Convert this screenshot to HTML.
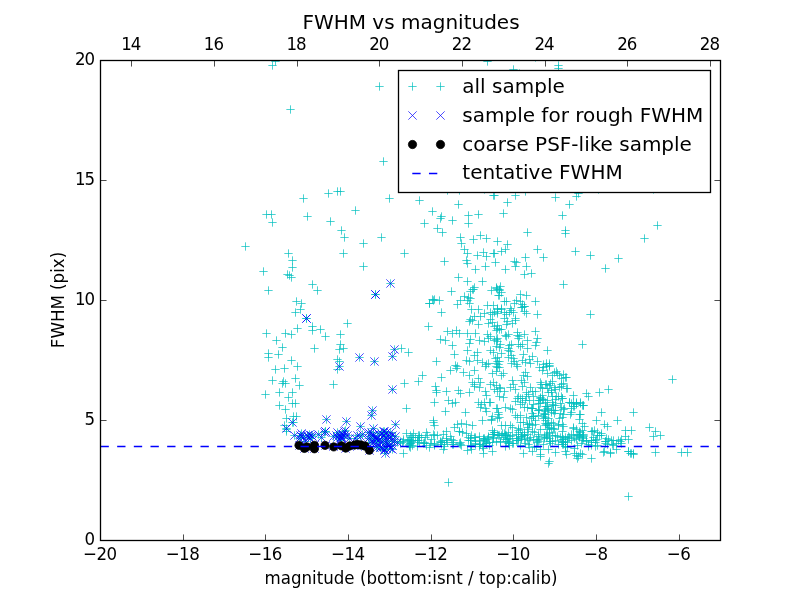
<!DOCTYPE html>
<html><head><meta charset="utf-8"><title>FWHM vs magnitudes</title><style>html,body{margin:0;padding:0;background:#fff;width:800px;height:600px;overflow:hidden}svg{display:block}</style></head><body>
<svg width="800" height="600" viewBox="0 0 800 600">
<rect x="0" y="0" width="800" height="600" fill="#ffffff"/>
<defs><clipPath id="cp"><rect x="100" y="60" width="620" height="480"/></clipPath></defs>
<g clip-path="url(#cp)">
<path d="M268.33 65.5H276.67M272.5 61.33V69.67M271.33 61.5H279.67M275.5 57.33V65.67M286.33 109.5H294.67M290.5 105.33V113.67M241.33 246.5H249.67M245.5 242.33V250.67M262.33 214.5H270.67M266.5 210.33V218.67M267.33 214.5H275.67M271.5 210.33V218.67M268.33 222.5H276.67M272.5 218.33V226.67M299.33 198.5H307.67M303.5 194.33V202.67M303.33 216.5H311.67M307.5 212.33V220.67M324.33 193.5H332.67M328.5 189.33V197.67M333.33 191.5H341.67M337.5 187.33V195.67M336.33 191.5H344.67M340.5 187.33V195.67M326.33 221.5H334.67M330.5 217.33V225.67M284.33 253.5H292.67M288.5 249.33V257.67M288.33 260.5H296.67M292.5 256.33V264.67M288.33 267.5H296.67M292.5 263.33V271.67M259.33 271.5H267.67M263.5 267.33V275.67M283.33 274.5H291.67M287.5 270.33V278.67M285.33 275.5H293.67M289.5 271.33V279.67M287.33 277.5H295.67M291.5 273.33V281.67M308.33 284.5H316.67M312.5 280.33V288.67M313.33 290.5H321.67M317.5 286.33V294.67M264.33 290.5H272.67M268.5 286.33V294.67M292.33 301.5H300.67M296.5 297.33V305.67M297.33 303.5H305.67M301.5 299.33V307.67M296.33 309.5H304.67M300.5 305.33V313.67M291.33 312.5H299.67M295.5 308.33V316.67M302.33 318.5H310.67M306.5 314.33V322.67M293.33 328.5H301.67M297.5 324.33V332.67M308.33 326.5H316.67M312.5 322.33V330.67M308.33 330.5H316.67M312.5 326.33V334.67M316.33 329.5H324.67M320.5 325.33V333.67M321.33 336.5H329.67M325.5 332.33V340.67M262.33 333.5H270.67M266.5 329.33V337.67M281.33 333.5H289.67M285.5 329.33V337.67M287.33 334.5H295.67M291.5 330.33V338.67M272.33 340.5H280.67M276.5 336.33V344.67M278.33 347.5H286.67M282.5 343.33V351.67M310.33 348.5H318.67M314.5 344.33V352.67M264.33 353.5H272.67M268.5 349.33V357.67M264.33 357.5H272.67M268.5 353.33V361.67M274.33 354.5H282.67M278.5 350.33V358.67M287.33 360.5H295.67M291.5 356.33V364.67M293.33 366.5H301.67M297.5 362.33V370.67M271.33 369.5H279.67M275.5 365.33V373.67M280.33 368.5H288.67M284.5 364.33V372.67M268.33 380.5H276.67M272.5 376.33V384.67M278.33 383.5H286.67M282.5 379.33V387.67M281.33 383.5H289.67M285.5 379.33V387.67M279.33 381.5H287.67M283.5 377.33V385.67M291.33 378.5H299.67M295.5 374.33V382.67M295.33 385.5H303.67M299.5 381.33V389.67M329.33 384.5H337.67M333.5 380.33V388.67M336.33 334.5H344.67M340.5 330.33V338.67M336.33 344.5H344.67M340.5 340.33V348.67M335.33 349.5H343.67M339.5 345.33V353.67M339.33 348.5H347.67M343.5 344.33V352.67M333.33 359.5H341.67M337.5 355.33V363.67M335.33 361.5H343.67M339.5 357.33V365.67M333.33 369.5H341.67M337.5 365.33V373.67M335.33 366.5H343.67M339.5 362.33V370.67M355.33 357.5H363.67M359.5 353.33V361.67M261.33 394.5H269.67M265.5 390.33V398.67M275.33 392.5H283.67M279.5 388.33V396.67M288.33 392.5H296.67M292.5 388.33V396.67M284.33 397.5H292.67M288.5 393.33V401.67M275.33 405.5H283.67M279.5 401.33V409.67M288.33 403.5H296.67M292.5 399.33V407.67M291.33 403.5H299.67M295.5 399.33V407.67M281.33 409.5H289.67M285.5 405.33V413.67M282.33 418.5H290.67M286.5 414.33V422.67M289.33 416.5H297.67M293.5 412.33V420.67M292.33 416.5H300.67M296.5 412.33V420.67M289.33 422.5H297.67M293.5 418.33V426.67M280.33 425.5H288.67M284.5 421.33V429.67M282.33 429.5H290.67M286.5 425.33V433.67M282.33 431.5H290.67M286.5 427.33V435.67M288.33 422.5H296.67M292.5 418.33V426.67M282.33 428.5H290.67M286.5 424.33V432.67M322.33 419.5H330.67M326.5 415.33V423.67M375.33 86.5H383.67M379.5 82.33V90.67M379.33 161.5H387.67M383.5 157.33V165.67M385.33 198.5H393.67M389.5 194.33V202.67M415.33 200.5H423.67M419.5 196.33V204.67M428.33 211.5H436.67M432.5 207.33V215.67M420.33 223.5H428.67M424.5 219.33V227.67M351.33 210.5H359.67M355.5 206.33V214.67M337.33 230.5H345.67M341.5 226.33V234.67M340.33 237.5H348.67M344.5 233.33V241.67M359.33 243.5H367.67M363.5 239.33V247.67M377.33 237.5H385.67M381.5 233.33V241.67M339.33 253.5H347.67M343.5 249.33V257.67M400.33 253.5H408.67M404.5 249.33V257.67M359.33 266.5H367.67M363.5 262.33V270.67M343.33 323.5H351.67M347.5 319.33V327.67M425.33 303.5H433.67M429.5 299.33V307.67M429.33 300.5H437.67M433.5 296.33V304.67M424.33 326.5H432.67M428.5 322.33V330.67M386.33 283.5H394.67M390.5 279.33V287.67M371.33 294.5H379.67M375.5 290.33V298.67M371.33 294.5H379.67M375.5 290.33V298.67M390.33 349.5H398.67M394.5 345.33V353.67M388.33 356.5H396.67M392.5 352.33V360.67M370.33 361.5H378.67M374.5 357.33V365.67M388.33 389.5H396.67M392.5 385.33V393.67M397.33 348.5H405.67M401.5 344.33V352.67M404.33 352.5H412.67M408.5 348.33V356.67M418.33 375.5H426.67M422.5 371.33V379.67M414.33 381.5H422.67M418.5 377.33V385.67M400.33 383.5H408.67M404.5 379.33V387.67M342.33 421.5H350.67M346.5 417.33V425.67M368.33 410.5H376.67M372.5 406.33V414.67M367.33 415.5H375.67M371.5 411.33V419.67M391.33 424.5H399.67M395.5 420.33V428.67M356.33 426.5H364.67M360.5 422.33V430.67M402.33 408.5H410.67M406.5 404.33V412.67M454.33 204.5H462.67M458.5 200.33V208.67M437.33 216.5H445.67M441.5 212.33V220.67M436.33 218.5H444.67M440.5 214.33V222.67M448.33 220.5H456.67M452.5 216.33V224.67M464.33 215.5H472.67M468.5 211.33V219.67M474.33 214.5H482.67M478.5 210.33V218.67M464.33 223.5H472.67M468.5 219.33V227.67M433.33 228.5H441.67M437.5 224.33V232.67M438.33 232.5H446.67M442.5 228.33V236.67M456.33 237.5H464.67M460.5 233.33V241.67M457.33 243.5H465.67M461.5 239.33V247.67M469.33 239.5H477.67M473.5 235.33V243.67M476.33 235.5H484.67M480.5 231.33V239.67M482.33 238.5H490.67M486.5 234.33V242.67M460.33 249.5H468.67M464.5 245.33V253.67M463.33 253.5H471.67M467.5 249.33V257.67M473.33 255.5H481.67M477.5 251.33V259.67M479.33 252.5H487.67M483.5 248.33V256.67M482.33 256.5H490.67M486.5 252.33V260.67M489.33 253.5H497.67M493.5 249.33V257.67M443.33 190.5H451.67M447.5 186.33V194.67M455.33 190.5H463.67M459.5 186.33V194.67M480.33 189.5H488.67M484.5 185.33V193.67M489.33 195.5H497.67M493.5 191.33V199.67M490.33 195.5H498.67M494.5 191.33V199.67M511.33 195.5H519.67M515.5 191.33V199.67M521.33 191.5H529.67M525.5 187.33V195.67M503.33 202.5H511.67M507.5 198.33V206.67M499.33 213.5H507.67M503.5 209.33V217.67M551.33 197.5H559.67M555.5 193.33V201.67M572.33 196.5H580.67M576.5 192.33V200.67M574.33 193.5H582.67M578.5 189.33V197.67M565.33 204.5H573.67M569.5 200.33V208.67M558.33 215.5H566.67M562.5 211.33V219.67M523.33 232.5H531.67M527.5 228.33V236.67M561.33 230.5H569.67M565.5 226.33V234.67M561.33 233.5H569.67M565.5 229.33V237.67M493.33 241.5H501.67M497.5 237.33V245.67M503.33 244.5H511.67M507.5 240.33V248.67M501.33 249.5H509.67M505.5 245.33V253.67M497.33 251.5H505.67M501.5 247.33V255.67M490.33 253.5H498.67M494.5 249.33V257.67M533.33 249.5H541.67M537.5 245.33V253.67M571.33 251.5H579.67M575.5 247.33V255.67M521.33 257.5H529.67M525.5 253.33V261.67M539.33 257.5H547.67M543.5 253.33V261.67M594.33 189.5H602.67M598.5 185.33V193.67M649.33 189.5H657.67M653.5 185.33V193.67M653.33 225.5H661.67M657.5 221.33V229.67M640.33 238.5H648.67M644.5 234.33V242.67M586.33 255.5H594.67M590.5 251.33V259.67M614.33 258.5H622.67M618.5 254.33V262.67M668.33 379.5H676.67M672.5 375.33V383.67M597.33 412.5H605.67M601.5 408.33V416.67M629.33 412.5H637.67M633.5 408.33V416.67M613.33 420.5H621.67M617.5 416.33V424.67M600.33 424.5H608.67M604.5 420.33V428.67M603.33 426.5H611.67M607.5 422.33V430.67M621.33 430.5H629.67M625.5 426.33V434.67M627.33 430.5H635.67M631.5 426.33V434.67M645.33 427.5H653.67M649.5 423.33V431.67M651.33 431.5H659.67M655.5 427.33V435.67M656.33 435.5H664.67M660.5 431.33V439.67M649.33 436.5H657.67M653.5 432.33V440.67M597.33 433.5H605.67M601.5 429.33V437.67M597.33 435.5H605.67M601.5 431.33V439.67M621.33 436.5H629.67M625.5 432.33V440.67M624.33 439.5H632.67M628.5 435.33V443.67M604.33 439.5H612.67M608.5 435.33V443.67M607.33 440.5H615.67M611.5 436.33V444.67M609.33 440.5H617.67M613.5 436.33V444.67M601.33 441.5H609.67M605.5 437.33V445.67M601.33 443.5H609.67M605.5 439.33V447.67M614.33 440.5H622.67M618.5 436.33V444.67M616.33 441.5H624.67M620.5 437.33V445.67M617.33 443.5H625.67M621.5 439.33V447.67M612.33 443.5H620.67M616.5 439.33V447.67M612.33 449.5H620.67M616.5 445.33V453.67M600.33 451.5H608.67M604.5 447.33V455.67M606.33 453.5H614.67M610.5 449.33V457.67M624.33 451.5H632.67M628.5 447.33V455.67M626.33 453.5H634.67M630.5 449.33V457.67M629.33 453.5H637.67M633.5 449.33V457.67M651.33 452.5H659.67M655.5 448.33V456.67M677.33 452.5H685.67M681.5 448.33V456.67M683.33 452.5H691.67M687.5 448.33V456.67M440.33 261.5H448.67M444.5 257.33V265.67M462.33 260.5H470.67M466.5 256.33V264.67M463.33 263.5H471.67M467.5 259.33V267.67M491.33 262.5H499.67M495.5 258.33V266.67M481.33 266.5H489.67M485.5 262.33V270.67M471.33 269.5H479.67M475.5 265.33V273.67M454.33 277.5H462.67M458.5 273.33V281.67M463.33 281.5H471.67M467.5 277.33V285.67M478.33 281.5H486.67M482.5 277.33V285.67M447.33 291.5H455.67M451.5 287.33V295.67M468.33 289.5H476.67M472.5 285.33V293.67M470.33 287.5H478.67M474.5 283.33V291.67M469.33 289.5H477.67M473.5 285.33V293.67M466.33 291.5H474.67M470.5 287.33V295.67M430.33 299.5H438.67M434.5 295.33V303.67M435.33 300.5H443.67M439.5 296.33V304.67M425.33 303.5H433.67M429.5 299.33V307.67M428.33 299.5H436.67M432.5 295.33V303.67M437.33 312.5H445.67M441.5 308.33V316.67M460.33 296.5H468.67M464.5 292.33V300.67M464.33 297.5H472.67M468.5 293.33V301.67M466.33 298.5H474.67M470.5 294.33V302.67M456.33 300.5H464.67M460.5 296.33V304.67M453.33 304.5H461.67M457.5 300.33V308.67M465.33 303.5H473.67M469.5 299.33V307.67M463.33 300.5H471.67M467.5 296.33V304.67M487.33 290.5H495.67M491.5 286.33V294.67M492.33 287.5H500.67M496.5 283.33V291.67M495.33 289.5H503.67M499.5 285.33V293.67M494.33 295.5H502.67M498.5 291.33V299.67M467.33 309.5H475.67M471.5 305.33V313.67M474.33 309.5H482.67M478.5 305.33V313.67M483.33 305.5H491.67M487.5 301.33V309.67M489.33 305.5H497.67M493.5 301.33V309.67M480.33 313.5H488.67M484.5 309.33V317.67M486.33 312.5H494.67M490.5 308.33V316.67M490.33 312.5H498.67M494.5 308.33V316.67M493.33 311.5H501.67M497.5 307.33V315.67M488.33 314.5H496.67M492.5 310.33V318.67M510.33 261.5H518.67M514.5 257.33V265.67M512.33 262.5H520.67M516.5 258.33V266.67M511.33 266.5H519.67M515.5 262.33V270.67M501.33 269.5H509.67M505.5 265.33V273.67M522.33 266.5H530.67M526.5 262.33V270.67M520.33 274.5H528.67M524.5 270.33V278.67M527.33 273.5H535.67M531.5 269.33V277.67M559.33 284.5H567.67M563.5 280.33V288.67M492.33 288.5H500.67M496.5 284.33V292.67M496.33 286.5H504.67M500.5 282.33V290.67M495.33 290.5H503.67M499.5 286.33V294.67M497.33 292.5H505.67M501.5 288.33V296.67M495.33 295.5H503.67M499.5 291.33V299.67M493.33 289.5H501.67M497.5 285.33V293.67M516.33 294.5H524.67M520.5 290.33V298.67M522.33 295.5H530.67M526.5 291.33V299.67M531.33 301.5H539.67M535.5 297.33V305.67M500.33 301.5H508.67M504.5 297.33V305.67M502.33 301.5H510.67M506.5 297.33V305.67M510.33 303.5H518.67M514.5 299.33V307.67M512.33 300.5H520.67M516.5 296.33V304.67M516.33 301.5H524.67M520.5 297.33V305.67M518.33 304.5H526.67M522.5 300.33V308.67M520.33 306.5H528.67M524.5 302.33V310.67M517.33 307.5H525.67M521.5 303.33V311.67M493.33 308.5H501.67M497.5 304.33V312.67M497.33 308.5H505.67M501.5 304.33V312.67M506.33 308.5H514.67M510.5 304.33V312.67M601.33 268.5H609.67M605.5 264.33V272.67M443.33 331.5H451.67M447.5 327.33V335.67M448.33 333.5H456.67M452.5 329.33V337.67M452.33 330.5H460.67M456.5 326.33V334.67M455.33 333.5H463.67M459.5 329.33V337.67M463.33 333.5H471.67M467.5 329.33V337.67M471.33 333.5H479.67M475.5 329.33V337.67M436.33 339.5H444.67M440.5 335.33V343.67M441.33 340.5H449.67M445.5 336.33V344.67M448.33 345.5H456.67M452.5 341.33V349.67M450.33 354.5H458.67M454.5 350.33V358.67M432.33 361.5H440.67M436.5 357.33V365.67M463.33 350.5H471.67M467.5 346.33V354.67M465.33 343.5H473.67M469.5 339.33V347.67M466.33 339.5H474.67M470.5 335.33V343.67M473.33 352.5H481.67M477.5 348.33V356.67M470.33 355.5H478.67M474.5 351.33V359.67M462.33 360.5H470.67M466.5 356.33V364.67M465.33 361.5H473.67M469.5 357.33V365.67M451.33 365.5H459.67M455.5 361.33V369.67M453.33 366.5H461.67M457.5 362.33V370.67M473.33 360.5H481.67M477.5 356.33V364.67M478.33 362.5H486.67M482.5 358.33V366.67M482.33 364.5H490.67M486.5 360.33V368.67M475.33 340.5H483.67M479.5 336.33V344.67M480.33 341.5H488.67M484.5 337.33V345.67M483.33 334.5H491.67M487.5 330.33V338.67M486.33 336.5H494.67M490.5 332.33V340.67M484.33 338.5H492.67M488.5 334.33V342.67M490.33 340.5H498.67M494.5 336.33V344.67M493.33 338.5H501.67M497.5 334.33V342.67M486.33 350.5H494.67M490.5 346.33V354.67M489.33 352.5H497.67M493.5 348.33V356.67M492.33 346.5H500.67M496.5 342.33V350.67M495.33 347.5H503.67M499.5 343.33V351.67M491.33 358.5H499.67M495.5 354.33V362.67M493.33 361.5H501.67M497.5 357.33V365.67M494.33 364.5H502.67M498.5 360.33V368.67M492.33 366.5H500.67M496.5 362.33V370.67M495.33 367.5H503.67M499.5 363.33V371.67M466.33 319.5H474.67M470.5 315.33V323.67M465.33 321.5H473.67M469.5 317.33V325.67M468.33 320.5H476.67M472.5 316.33V324.67M470.33 316.5H478.67M474.5 312.33V320.67M474.33 324.5H482.67M478.5 320.33V328.67M476.33 316.5H484.67M480.5 312.33V320.67M486.33 319.5H494.67M490.5 315.33V323.67M488.33 322.5H496.67M492.5 318.33V326.67M490.33 326.5H498.67M494.5 322.33V330.67M493.33 328.5H501.67M497.5 324.33V332.67M484.33 323.5H492.67M488.5 319.33V327.67M533.33 314.5H541.67M537.5 310.33V318.67M518.33 307.5H526.67M522.5 303.33V311.67M520.33 306.5H528.67M524.5 302.33V310.67M522.33 313.5H530.67M526.5 309.33V317.67M520.33 311.5H528.67M524.5 307.33V315.67M493.33 309.5H501.67M497.5 305.33V313.67M497.33 309.5H505.67M501.5 305.33V313.67M493.33 313.5H501.67M497.5 309.33V317.67M500.33 312.5H508.67M504.5 308.33V316.67M502.33 314.5H510.67M506.5 310.33V318.67M505.33 312.5H513.67M509.5 308.33V316.67M507.33 310.5H515.67M511.5 306.33V314.67M509.33 312.5H517.67M513.5 308.33V316.67M500.33 318.5H508.67M504.5 314.33V322.67M503.33 321.5H511.67M507.5 317.33V325.67M502.33 324.5H510.67M506.5 320.33V328.67M511.33 318.5H519.67M515.5 314.33V322.67M508.33 323.5H516.67M512.5 319.33V327.67M511.33 320.5H519.67M515.5 316.33V324.67M493.33 325.5H501.67M497.5 321.33V329.67M495.33 329.5H503.67M499.5 325.33V333.67M497.33 329.5H505.67M501.5 325.33V333.67M492.33 330.5H500.67M496.5 326.33V334.67M531.33 331.5H539.67M535.5 327.33V335.67M501.33 335.5H509.67M505.5 331.33V339.67M502.33 336.5H510.67M506.5 332.33V340.67M504.33 334.5H512.67M508.5 330.33V338.67M513.33 332.5H521.67M517.5 328.33V336.67M513.33 335.5H521.67M517.5 331.33V339.67M515.33 336.5H523.67M519.5 332.33V340.67M514.33 338.5H522.67M518.5 334.33V342.67M520.33 334.5H528.67M524.5 330.33V338.67M523.33 340.5H531.67M527.5 336.33V344.67M533.33 338.5H541.67M537.5 334.33V342.67M532.33 342.5H540.67M536.5 338.33V346.67M531.33 345.5H539.67M535.5 341.33V349.67M492.33 339.5H500.67M496.5 335.33V343.67M493.33 341.5H501.67M497.5 337.33V345.67M496.33 344.5H504.67M500.5 340.33V348.67M505.33 345.5H513.67M509.5 341.33V349.67M507.33 344.5H515.67M511.5 340.33V348.67M504.33 348.5H512.67M508.5 344.33V352.67M504.33 350.5H512.67M508.5 346.33V354.67M506.33 351.5H514.67M510.5 347.33V355.67M514.33 344.5H522.67M518.5 340.33V348.67M516.33 346.5H524.67M520.5 342.33V350.67M518.33 344.5H526.67M522.5 340.33V348.67M523.33 348.5H531.67M527.5 344.33V352.67M543.33 350.5H551.67M547.5 346.33V354.67M497.33 353.5H505.67M501.5 349.33V357.67M493.33 357.5H501.67M497.5 353.33V361.67M495.33 361.5H503.67M499.5 357.33V365.67M492.33 363.5H500.67M496.5 359.33V367.67M504.33 357.5H512.67M508.5 353.33V361.67M507.33 355.5H515.67M511.5 351.33V359.67M509.33 358.5H517.67M513.5 354.33V362.67M510.33 361.5H518.67M514.5 357.33V365.67M507.33 363.5H515.67M511.5 359.33V367.67M512.33 364.5H520.67M516.5 360.33V368.67M519.33 354.5H527.67M523.5 350.33V358.67M518.33 360.5H526.67M522.5 356.33V364.67M521.33 362.5H529.67M525.5 358.33V366.67M528.33 356.5H536.67M532.5 352.33V360.67M525.33 359.5H533.67M529.5 355.33V363.67M533.33 361.5H541.67M537.5 357.33V365.67M526.33 363.5H534.67M530.5 359.33V367.67M539.33 364.5H547.67M543.5 360.33V368.67M542.33 363.5H550.67M546.5 359.33V367.67M545.33 363.5H553.67M549.5 359.33V367.67M586.33 314.5H594.67M590.5 310.33V318.67M578.33 344.5H586.67M582.5 340.33V348.67M437.33 377.5H445.67M441.5 373.33V381.67M452.33 368.5H460.67M456.5 364.33V372.67M446.33 370.5H454.67M450.5 366.33V374.67M459.33 372.5H467.67M463.5 368.33V376.67M470.33 370.5H478.67M474.5 366.33V374.67M465.33 375.5H473.67M469.5 371.33V379.67M431.33 386.5H439.67M435.5 382.33V390.67M432.33 390.5H440.67M436.5 386.33V394.67M432.33 392.5H440.67M436.5 388.33V396.67M442.33 391.5H450.67M446.5 387.33V395.67M454.33 390.5H462.67M458.5 386.33V394.67M456.33 393.5H464.67M460.5 389.33V397.67M465.33 392.5H473.67M469.5 388.33V396.67M468.33 382.5H476.67M472.5 378.33V386.67M470.33 384.5H478.67M474.5 380.33V388.67M470.33 386.5H478.67M474.5 382.33V390.67M474.33 378.5H482.67M478.5 374.33V382.67M476.33 382.5H484.67M480.5 378.33V386.67M475.33 387.5H483.67M479.5 383.33V391.67M430.33 402.5H438.67M434.5 398.33V406.67M444.33 400.5H452.67M448.5 396.33V404.67M448.33 403.5H456.67M452.5 399.33V407.67M451.33 402.5H459.67M455.5 398.33V406.67M441.33 411.5H449.67M445.5 407.33V415.67M461.33 412.5H469.67M465.5 408.33V416.67M429.33 420.5H437.67M433.5 416.33V424.67M481.33 366.5H489.67M485.5 362.33V370.67M484.33 363.5H492.67M488.5 359.33V367.67M493.33 367.5H501.67M497.5 363.33V371.67M492.33 371.5H500.67M496.5 367.33V375.67M488.33 373.5H496.67M492.5 369.33V377.67M486.33 384.5H494.67M490.5 380.33V388.67M489.33 382.5H497.67M493.5 378.33V386.67M492.33 385.5H500.67M496.5 381.33V389.67M495.33 387.5H503.67M499.5 383.33V391.67M490.33 389.5H498.67M494.5 385.33V393.67M493.33 391.5H501.67M497.5 387.33V395.67M481.33 391.5H489.67M485.5 387.33V395.67M482.33 395.5H490.67M486.5 391.33V399.67M474.33 402.5H482.67M478.5 398.33V406.67M477.33 404.5H485.67M481.5 400.33V408.67M480.33 402.5H488.67M484.5 398.33V406.67M485.33 402.5H493.67M489.5 398.33V406.67M481.33 408.5H489.67M485.5 404.33V412.67M476.33 407.5H484.67M480.5 403.33V411.67M482.33 411.5H490.67M486.5 407.33V415.67M492.33 408.5H500.67M496.5 404.33V412.67M494.33 412.5H502.67M498.5 408.33V416.67M488.33 416.5H496.67M492.5 412.33V420.67M493.33 418.5H501.67M497.5 414.33V422.67M478.33 420.5H486.67M482.5 416.33V424.67M487.33 420.5H495.67M491.5 416.33V424.67M559.33 374.5H567.67M563.5 370.33V378.67M562.33 377.5H570.67M566.5 373.33V381.67M557.33 378.5H565.67M561.5 374.33V382.67M557.33 386.5H565.67M561.5 382.33V390.67M563.33 388.5H571.67M567.5 384.33V392.67M569.33 395.5H577.67M573.5 391.33V399.67M582.33 393.5H590.67M586.5 389.33V397.67M584.33 396.5H592.67M588.5 392.33V400.67M595.33 392.5H603.67M599.5 388.33V396.67M604.33 389.5H612.67M608.5 385.33V393.67M558.33 398.5H566.67M562.5 394.33V402.67M565.33 402.5H573.67M569.5 398.33V406.67M567.33 403.5H575.67M571.5 399.33V407.67M570.33 406.5H578.67M574.5 402.33V410.67M572.33 404.5H580.67M576.5 400.33V408.67M576.33 402.5H584.67M580.5 398.33V406.67M579.33 405.5H587.67M583.5 401.33V409.67M560.33 408.5H568.67M564.5 404.33V412.67M567.33 412.5H575.67M571.5 408.33V416.67M575.33 414.5H583.67M579.5 410.33V418.67M592.33 420.5H600.67M596.5 416.33V424.67M576.33 414.5H584.67M580.5 410.33V418.67M575.33 419.5H583.67M579.5 415.33V423.67M578.33 423.5H586.67M582.5 419.33V427.67M561.33 377.5H569.67M565.5 373.33V381.67M559.33 383.5H567.67M563.5 379.33V387.67M553.33 373.5H561.67M557.5 369.33V377.67M562.33 388.5H570.67M566.5 384.33V392.67M569.33 402.5H577.67M573.5 398.33V406.67M567.33 408.5H575.67M571.5 404.33V412.67M576.33 403.5H584.67M580.5 399.33V407.67M579.33 405.5H587.67M583.5 401.33V409.67M536.33 454.5H544.67M540.5 450.33V458.67M545.33 461.5H553.67M549.5 457.33V465.67M572.33 455.5H580.67M576.5 451.33V459.67M576.33 453.5H584.67M580.5 449.33V457.67M587.33 458.5H595.67M591.5 454.33V462.67M599.33 452.5H607.67M603.5 448.33V456.67M606.33 452.5H614.67M610.5 448.33V456.67M624.33 451.5H632.67M628.5 447.33V455.67M627.33 453.5H635.67M631.5 449.33V457.67M629.33 454.5H637.67M633.5 450.33V458.67M561.33 451.5H569.67M565.5 447.33V455.67M551.33 452.5H559.67M555.5 448.33V456.67M519.33 453.5H527.67M523.5 449.33V457.67M528.33 451.5H536.67M532.5 447.33V455.67M429.33 422.5H437.67M433.5 418.33V426.67M430.33 425.5H438.67M434.5 421.33V429.67M450.33 427.5H458.67M454.5 423.33V431.67M453.33 424.5H461.67M457.5 420.33V428.67M457.33 423.5H465.67M461.5 419.33V427.67M462.33 424.5H470.67M466.5 420.33V428.67M468.33 425.5H476.67M472.5 421.33V429.67M479.33 453.5H487.67M483.5 449.33V457.67M536.33 456.5H544.67M540.5 452.33V460.67M544.33 463.5H552.67M548.5 459.33V467.67M290.33 435.5H298.67M294.5 431.33V439.67M297.33 436.5H305.67M301.5 432.33V440.67M299.33 437.5H307.67M303.5 433.33V441.67M295.33 438.5H303.67M299.5 434.33V442.67M304.33 437.5H312.67M308.5 433.33V441.67M308.33 436.5H316.67M312.5 432.33V440.67M306.33 438.5H314.67M310.5 434.33V442.67M314.33 434.5H322.67M318.5 430.33V438.67M320.33 432.5H328.67M324.5 428.33V436.67M321.33 431.5H329.67M325.5 427.33V435.67M317.33 437.5H325.67M321.5 433.33V441.67M329.33 436.5H337.67M333.5 432.33V440.67M332.33 435.5H340.67M336.5 431.33V439.67M335.33 434.5H343.67M339.5 430.33V438.67M338.33 434.5H346.67M342.5 430.33V438.67M333.33 437.5H341.67M337.5 433.33V441.67M337.33 437.5H345.67M341.5 433.33V441.67M341.33 430.5H349.67M345.5 426.33V434.67M340.33 435.5H348.67M344.5 431.33V439.67M343.33 435.5H351.67M347.5 431.33V439.67M337.33 436.5H345.67M341.5 432.33V440.67M345.33 438.5H353.67M349.5 434.33V442.67M353.33 435.5H361.67M357.5 431.33V439.67M356.33 436.5H364.67M360.5 432.33V440.67M358.33 434.5H366.67M362.5 430.33V438.67M351.33 438.5H359.67M355.5 434.33V442.67M369.33 428.5H377.67M373.5 424.33V432.67M367.33 432.5H375.67M371.5 428.33V436.67M369.33 435.5H377.67M373.5 431.33V439.67M366.33 436.5H374.67M370.5 432.33V440.67M371.33 438.5H379.67M375.5 434.33V442.67M368.33 440.5H376.67M372.5 436.33V444.67M364.33 438.5H372.67M368.5 434.33V442.67M382.33 432.5H390.67M386.5 428.33V436.67M379.33 435.5H387.67M383.5 431.33V439.67M384.33 436.5H392.67M388.5 432.33V440.67M388.33 435.5H396.67M392.5 431.33V439.67M391.33 436.5H399.67M395.5 432.33V440.67M381.33 438.5H389.67M385.5 434.33V442.67M387.33 440.5H395.67M391.5 436.33V444.67M390.33 441.5H398.67M394.5 437.33V445.67M378.33 441.5H386.67M382.5 437.33V445.67M383.33 444.5H391.67M387.5 440.33V448.67M388.33 445.5H396.67M392.5 441.33V449.67M393.33 442.5H401.67M397.5 438.33V446.67M376.33 447.5H384.67M380.5 443.33V451.67M382.33 448.5H390.67M386.5 444.33V452.67M388.33 449.5H396.67M392.5 445.33V453.67M372.33 442.5H380.67M376.5 438.33V446.67M373.33 447.5H381.67M377.5 443.33V451.67M381.33 453.5H389.67M385.5 449.33V457.67M295.33 445.5H303.67M299.5 441.33V449.67M300.33 448.5H308.67M304.5 444.33V452.67M302.33 446.5H310.67M306.5 442.33V450.67M310.33 445.5H318.67M314.5 441.33V449.67M310.33 448.5H318.67M314.5 444.33V452.67M321.33 445.5H329.67M325.5 441.33V449.67M329.33 446.5H337.67M333.5 442.33V450.67M337.33 445.5H345.67M341.5 441.33V449.67M341.33 448.5H349.67M345.5 444.33V452.67M350.33 445.5H358.67M354.5 441.33V449.67M353.33 444.5H361.67M357.5 440.33V448.67M361.33 446.5H369.67M365.5 442.33V450.67M365.33 450.5H373.67M369.5 446.33V454.67M444.33 482.5H452.67M448.5 478.33V486.67M624.33 496.5H632.67M628.5 492.33V500.67M513.33 366.5H521.67M517.5 362.33V370.67M521.33 372.5H529.67M525.5 368.33V376.67M519.33 375.5H527.67M523.5 371.33V379.67M523.33 376.5H531.67M527.5 372.33V380.67M535.33 367.5H543.67M539.5 363.33V371.67M538.33 370.5H546.67M542.5 366.33V374.67M545.33 366.5H553.67M549.5 362.33V370.67M550.33 372.5H558.67M554.5 368.33V376.67M497.33 375.5H505.67M501.5 371.33V379.67M499.33 373.5H507.67M503.5 369.33V377.67M500.33 391.5H508.67M504.5 387.33V395.67M496.33 388.5H504.67M500.5 384.33V392.67M508.33 380.5H516.67M512.5 376.33V384.67M509.33 384.5H517.67M513.5 380.33V388.67M506.33 387.5H514.67M510.5 383.33V391.67M511.33 389.5H519.67M515.5 385.33V393.67M517.33 380.5H525.67M521.5 376.33V384.67M520.33 382.5H528.67M524.5 378.33V386.67M518.33 386.5H526.67M522.5 382.33V390.67M526.33 387.5H534.67M530.5 383.33V391.67M528.33 391.5H536.67M532.5 387.33V395.67M524.33 394.5H532.67M528.5 390.33V398.67M529.33 396.5H537.67M533.5 392.33V400.67M536.33 382.5H544.67M540.5 378.33V386.67M541.33 384.5H549.67M545.5 380.33V388.67M546.33 383.5H554.67M550.5 379.33V387.67M550.33 387.5H558.67M554.5 383.33V391.67M538.33 388.5H546.67M542.5 384.33V392.67M544.33 392.5H552.67M548.5 388.33V396.67M548.33 396.5H556.67M552.5 392.33V400.67M552.33 396.5H560.67M556.5 392.33V400.67M514.33 396.5H522.67M518.5 392.33V400.67M518.33 398.5H526.67M522.5 394.33V402.67M522.33 396.5H530.67M526.5 392.33V400.67M545.33 365.5H553.67M549.5 361.33V369.67M542.33 366.5H550.67M546.5 362.33V370.67M539.33 367.5H547.67M543.5 363.33V371.67M552.33 371.5H560.67M556.5 367.33V375.67M555.33 375.5H563.67M559.5 371.33V379.67M548.33 375.5H556.67M552.5 371.33V379.67M543.33 373.5H551.67M547.5 369.33V377.67M548.33 381.5H556.67M552.5 377.33V385.67M545.33 385.5H553.67M549.5 381.33V389.67M542.33 384.5H550.67M546.5 380.33V388.67M537.33 384.5H545.67M541.5 380.33V388.67M536.33 387.5H544.67M540.5 383.33V391.67M557.33 384.5H565.67M561.5 380.33V388.67M555.33 387.5H563.67M559.5 383.33V391.67M551.33 389.5H559.67M555.5 385.33V393.67M547.33 390.5H555.67M551.5 386.33V394.67M543.33 388.5H551.67M547.5 384.33V392.67M554.33 396.5H562.67M558.5 392.33V400.67M557.33 396.5H565.67M561.5 392.33V400.67M558.33 398.5H566.67M562.5 394.33V402.67M538.33 395.5H546.67M542.5 391.33V399.67M536.33 397.5H544.67M540.5 393.33V401.67M543.33 400.5H551.67M547.5 396.33V404.67M548.33 402.5H556.67M552.5 398.33V406.67M551.33 399.5H559.67M555.5 395.33V403.67M565.33 402.5H573.67M569.5 398.33V406.67M572.33 402.5H580.67M576.5 398.33V406.67M495.33 396.5H503.67M499.5 392.33V400.67M499.33 397.5H507.67M503.5 393.33V401.67M513.33 398.5H521.67M517.5 394.33V402.67M511.33 401.5H519.67M515.5 397.33V405.67M486.33 402.5H494.67M490.5 398.33V406.67M493.33 408.5H501.67M497.5 404.33V412.67M501.33 407.5H509.67M505.5 403.33V411.67M506.33 408.5H514.67M510.5 404.33V412.67M508.33 409.5H516.67M512.5 405.33V413.67M494.33 414.5H502.67M498.5 410.33V418.67M495.33 417.5H503.67M499.5 413.33V421.67M487.33 419.5H495.67M491.5 415.33V423.67M511.33 415.5H519.67M515.5 411.33V419.67M513.33 417.5H521.67M517.5 413.33V421.67M497.33 425.5H505.67M501.5 421.33V429.67M501.33 425.5H509.67M505.5 421.33V429.67M506.33 425.5H514.67M510.5 421.33V429.67M508.33 427.5H516.67M512.5 423.33V431.67M490.33 432.5H498.67M494.5 428.33V436.67M488.33 430.5H496.67M492.5 426.33V434.67M493.33 434.5H501.67M497.5 430.33V438.67M497.33 435.5H505.67M501.5 431.33V439.67M501.33 434.5H509.67M505.5 430.33V438.67M504.33 432.5H512.67M508.5 428.33V436.67M508.33 435.5H516.67M512.5 431.33V439.67M512.33 434.5H520.67M516.5 430.33V438.67M514.33 432.5H522.67M518.5 428.33V436.67M578.33 405.5H586.67M582.5 401.33V409.67M572.33 403.5H580.67M576.5 399.33V407.67M569.33 406.5H577.67M573.5 402.33V410.67M587.33 431.5H595.67M591.5 427.33V435.67M590.33 430.5H598.67M594.5 426.33V434.67M593.33 432.5H601.67M597.5 428.33V436.67M595.33 435.5H603.67M599.5 431.33V439.67M589.33 437.5H597.67M593.5 433.33V441.67M592.33 439.5H600.67M596.5 435.33V443.67M587.33 442.5H595.67M591.5 438.33V446.67M569.33 427.5H577.67M573.5 423.33V431.67M572.33 429.5H580.67M576.5 425.33V433.67M575.33 431.5H583.67M579.5 427.33V435.67M578.33 430.5H586.67M582.5 426.33V434.67M580.33 426.5H588.67M584.5 422.33V430.67M574.33 435.5H582.67M578.5 431.33V439.67M578.33 437.5H586.67M582.5 433.33V441.67M572.33 439.5H580.67M576.5 435.33V443.67M569.33 435.5H577.67M573.5 431.33V439.67M302.33 318.5H310.67M306.5 314.33V322.67M345.33 446.5H353.67M349.5 442.33V450.67M357.33 445.5H365.67M361.5 441.33V449.67M570.33 453.5H578.67M574.5 449.33V457.67M574.33 456.5H582.67M578.5 452.33V460.67M578.33 454.5H586.67M582.5 450.33V458.67M573.33 458.5H581.67M577.5 454.33V462.67M562.33 454.5H570.67M566.5 450.33V458.67M483.33 61.5H491.67M487.5 57.33V65.67M509.33 69.5H517.67M513.5 65.33V73.67M515.33 73.5H523.67M519.5 69.33V77.67M531.33 57.5H539.67M535.5 53.33V61.67M554.33 65.5H562.67M558.5 61.33V69.67M554.33 68.5H562.67M558.5 64.33V72.67M405.33 446.5H413.67M409.5 442.33V450.67M427.33 439.5H435.67M431.5 435.33V443.67M411.33 437.5H419.67M415.5 433.33V441.67M419.33 443.5H427.67M423.5 439.33V447.67M422.33 432.5H430.67M426.5 428.33V436.67M405.33 445.5H413.67M409.5 441.33V449.67M422.33 445.5H430.67M426.5 441.33V449.67M413.33 440.5H421.67M417.5 436.33V444.67M423.33 435.5H431.67M427.5 431.33V439.67M425.33 447.5H433.67M429.5 443.33V451.67M399.33 439.5H407.67M403.5 435.33V443.67M409.33 433.5H417.67M413.5 429.33V437.67M406.33 443.5H414.67M410.5 439.33V447.67M403.33 440.5H411.67M407.5 436.33V444.67M399.33 453.5H407.67M403.5 449.33V457.67M430.33 444.5H438.67M434.5 440.33V448.67M433.33 435.5H441.67M437.5 431.33V439.67M430.33 443.5H438.67M434.5 439.33V447.67M417.33 437.5H425.67M421.5 433.33V441.67M415.33 442.5H423.67M419.5 438.33V446.67M414.33 440.5H422.67M418.5 436.33V444.67M409.33 440.5H417.67M413.5 436.33V444.67M406.33 435.5H414.67M410.5 431.33V439.67M406.33 447.5H414.67M410.5 443.33V451.67M396.33 441.5H404.67M400.5 437.33V445.67M407.33 442.5H415.67M411.5 438.33V446.67M420.33 443.5H428.67M424.5 439.33V447.67M408.33 437.5H416.67M412.5 433.33V441.67M402.33 433.5H410.67M406.5 429.33V437.67M414.33 435.5H422.67M418.5 431.33V439.67M406.33 443.5H414.67M410.5 439.33V447.67M407.33 441.5H415.67M411.5 437.33V445.67M415.33 437.5H423.67M419.5 433.33V441.67M415.33 435.5H423.67M419.5 431.33V439.67M429.33 434.5H437.67M433.5 430.33V438.67M430.33 435.5H438.67M434.5 431.33V439.67M426.33 443.5H434.67M430.5 439.33V447.67M404.33 440.5H412.67M408.5 436.33V444.67M405.33 439.5H413.67M409.5 435.33V443.67M420.33 442.5H428.67M424.5 438.33V446.67M421.33 437.5H429.67M425.5 433.33V441.67M405.33 444.5H413.67M409.5 440.33V448.67M399.33 441.5H407.67M403.5 437.33V445.67M413.33 446.5H421.67M417.5 442.33V450.67M408.33 445.5H416.67M412.5 441.33V449.67M396.33 443.5H404.67M400.5 439.33V447.67M430.33 445.5H438.67M434.5 441.33V449.67M413.33 440.5H421.67M417.5 436.33V444.67M407.33 437.5H415.67M411.5 433.33V441.67M398.33 442.5H406.67M402.5 438.33V446.67M442.33 431.5H450.67M446.5 427.33V435.67M467.33 445.5H475.67M471.5 441.33V449.67M458.33 432.5H466.67M462.5 428.33V436.67M456.33 444.5H464.67M460.5 440.33V448.67M447.33 439.5H455.67M451.5 435.33V443.67M439.33 449.5H447.67M443.5 445.33V453.67M471.33 444.5H479.67M475.5 440.33V448.67M437.33 444.5H445.67M441.5 440.33V448.67M440.33 444.5H448.67M444.5 440.33V448.67M471.33 437.5H479.67M475.5 433.33V441.67M449.33 440.5H457.67M453.5 436.33V444.67M449.33 442.5H457.67M453.5 438.33V446.67M436.33 442.5H444.67M440.5 438.33V446.67M471.33 443.5H479.67M475.5 439.33V447.67M455.33 431.5H463.67M459.5 427.33V435.67M467.33 435.5H475.67M471.5 431.33V439.67M464.33 440.5H472.67M468.5 436.33V444.67M462.33 433.5H470.67M466.5 429.33V437.67M466.33 438.5H474.67M470.5 434.33V442.67M475.33 444.5H483.67M479.5 440.33V448.67M437.33 442.5H445.67M441.5 438.33V446.67M470.33 437.5H478.67M474.5 433.33V441.67M449.33 444.5H457.67M453.5 440.33V448.67M466.33 440.5H474.67M470.5 436.33V444.67M439.33 434.5H447.67M443.5 430.33V438.67M467.33 449.5H475.67M471.5 445.33V453.67M455.33 443.5H463.67M459.5 439.33V447.67M457.33 445.5H465.67M461.5 441.33V449.67M442.33 438.5H450.67M446.5 434.33V442.67M446.33 436.5H454.67M450.5 432.33V440.67M475.33 436.5H483.67M479.5 432.33V440.67M456.33 442.5H464.67M460.5 438.33V446.67M471.33 441.5H479.67M475.5 437.33V445.67M464.33 437.5H472.67M468.5 433.33V441.67M475.33 440.5H483.67M479.5 436.33V444.67M466.33 445.5H474.67M470.5 441.33V449.67M440.33 446.5H448.67M444.5 442.33V450.67M438.33 440.5H446.67M442.5 436.33V444.67M436.33 441.5H444.67M440.5 437.33V445.67M443.33 442.5H451.67M447.5 438.33V446.67M442.33 440.5H450.67M446.5 436.33V444.67M455.33 431.5H463.67M459.5 427.33V435.67M475.33 446.5H483.67M479.5 442.33V450.67M448.33 444.5H456.67M452.5 440.33V448.67M463.33 450.5H471.67M467.5 446.33V454.67M466.33 440.5H474.67M470.5 436.33V444.67M504.33 443.5H512.67M508.5 439.33V447.67M484.33 437.5H492.67M488.5 433.33V441.67M521.33 443.5H529.67M525.5 439.33V447.67M513.33 440.5H521.67M517.5 436.33V444.67M489.33 437.5H497.67M493.5 433.33V441.67M534.33 436.5H542.67M538.5 432.33V440.67M488.33 442.5H496.67M492.5 438.33V446.67M514.33 438.5H522.67M518.5 434.33V442.67M496.33 441.5H504.67M500.5 437.33V445.67M502.33 441.5H510.67M506.5 437.33V445.67M501.33 446.5H509.67M505.5 442.33V450.67M489.33 434.5H497.67M493.5 430.33V438.67M517.33 436.5H525.67M521.5 432.33V440.67M499.33 437.5H507.67M503.5 433.33V441.67M512.33 440.5H520.67M516.5 436.33V444.67M530.33 432.5H538.67M534.5 428.33V436.67M524.33 444.5H532.67M528.5 440.33V448.67M505.33 445.5H513.67M509.5 441.33V449.67M504.33 441.5H512.67M508.5 437.33V445.67M525.33 440.5H533.67M529.5 436.33V444.67M512.33 438.5H520.67M516.5 434.33V442.67M489.33 438.5H497.67M493.5 434.33V442.67M526.33 437.5H534.67M530.5 433.33V441.67M533.33 440.5H541.67M537.5 436.33V444.67M532.33 447.5H540.67M536.5 443.33V451.67M516.33 445.5H524.67M520.5 441.33V449.67M488.33 451.5H496.67M492.5 447.33V455.67M496.33 442.5H504.67M500.5 438.33V446.67M502.33 435.5H510.67M506.5 431.33V439.67M476.33 444.5H484.67M480.5 440.33V448.67M494.33 435.5H502.67M498.5 431.33V439.67M480.33 440.5H488.67M484.5 436.33V444.67M504.33 442.5H512.67M508.5 438.33V446.67M481.33 441.5H489.67M485.5 437.33V445.67M520.33 435.5H528.67M524.5 431.33V439.67M528.33 431.5H536.67M532.5 427.33V435.67M482.33 443.5H490.67M486.5 439.33V447.67M503.33 439.5H511.67M507.5 435.33V443.67M480.33 438.5H488.67M484.5 434.33V442.67M485.33 442.5H493.67M489.5 438.33V446.67M505.33 443.5H513.67M509.5 439.33V447.67M478.33 446.5H486.67M482.5 442.33V450.67M520.33 432.5H528.67M524.5 428.33V436.67M509.33 443.5H517.67M513.5 439.33V447.67M533.33 442.5H541.67M537.5 438.33V446.67M479.33 438.5H487.67M483.5 434.33V442.67M520.33 439.5H528.67M524.5 435.33V443.67M482.33 443.5H490.67M486.5 439.33V447.67M517.33 437.5H525.67M521.5 433.33V441.67M495.33 435.5H503.67M499.5 431.33V439.67M484.33 436.5H492.67M488.5 432.33V440.67M485.33 445.5H493.67M489.5 441.33V449.67M488.33 434.5H496.67M492.5 430.33V438.67M479.33 439.5H487.67M483.5 435.33V443.67M500.33 433.5H508.67M504.5 429.33V437.67M529.33 439.5H537.67M533.5 435.33V443.67M501.33 435.5H509.67M505.5 431.33V439.67M514.33 440.5H522.67M518.5 436.33V444.67M517.33 439.5H525.67M521.5 435.33V443.67M530.33 446.5H538.67M534.5 442.33V450.67M498.33 433.5H506.67M502.5 429.33V437.67M505.33 438.5H513.67M509.5 434.33V442.67M503.33 438.5H511.67M507.5 434.33V442.67M490.33 432.5H498.67M494.5 428.33V436.67M523.33 438.5H531.67M527.5 434.33V442.67M534.33 441.5H542.67M538.5 437.33V445.67M517.33 436.5H525.67M521.5 432.33V440.67M525.33 447.5H533.67M529.5 443.33V451.67M492.33 441.5H500.67M496.5 437.33V445.67M483.33 439.5H491.67M487.5 435.33V443.67M501.33 439.5H509.67M505.5 435.33V443.67M508.33 443.5H516.67M512.5 439.33V447.67M506.33 436.5H514.67M510.5 432.33V440.67M479.33 445.5H487.67M483.5 441.33V449.67M479.33 448.5H487.67M483.5 444.33V452.67M575.33 436.5H583.67M579.5 432.33V440.67M591.33 446.5H599.67M595.5 442.33V450.67M557.33 441.5H565.67M561.5 437.33V445.67M558.33 436.5H566.67M562.5 432.33V440.67M543.33 436.5H551.67M547.5 432.33V440.67M561.33 441.5H569.67M565.5 437.33V445.67M546.33 441.5H554.67M550.5 437.33V445.67M579.33 436.5H587.67M583.5 432.33V440.67M564.33 436.5H572.67M568.5 432.33V440.67M579.33 435.5H587.67M583.5 431.33V439.67M582.33 440.5H590.67M586.5 436.33V444.67M546.33 443.5H554.67M550.5 439.33V447.67M559.33 439.5H567.67M563.5 435.33V443.67M575.33 434.5H583.67M579.5 430.33V438.67M576.33 432.5H584.67M580.5 428.33V436.67M536.33 449.5H544.67M540.5 445.33V453.67M553.33 436.5H561.67M557.5 432.33V440.67M539.33 444.5H547.67M543.5 440.33V448.67M545.33 432.5H553.67M549.5 428.33V436.67M593.33 435.5H601.67M597.5 431.33V439.67M577.33 443.5H585.67M581.5 439.33V447.67M575.33 437.5H583.67M579.5 433.33V441.67M556.33 437.5H564.67M560.5 433.33V441.67M579.33 434.5H587.67M583.5 430.33V438.67M563.33 447.5H571.67M567.5 443.33V451.67M559.33 442.5H567.67M563.5 438.33V446.67M570.33 438.5H578.67M574.5 434.33V442.67M563.33 442.5H571.67M567.5 438.33V446.67M544.33 449.5H552.67M548.5 445.33V453.67M545.33 438.5H553.67M549.5 434.33V442.67M570.33 448.5H578.67M574.5 444.33V452.67M561.33 437.5H569.67M565.5 433.33V441.67M540.33 435.5H548.67M544.5 431.33V439.67M545.33 441.5H553.67M549.5 437.33V445.67M543.33 429.5H551.67M547.5 425.33V433.67M551.33 435.5H559.67M555.5 431.33V439.67M584.33 444.5H592.67M588.5 440.33V448.67M540.33 437.5H548.67M544.5 433.33V441.67M548.33 441.5H556.67M552.5 437.33V445.67M573.33 434.5H581.67M577.5 430.33V438.67M587.33 445.5H595.67M591.5 441.33V449.67M587.33 440.5H595.67M591.5 436.33V444.67M587.33 440.5H595.67M591.5 436.33V444.67M591.33 442.5H599.67M595.5 438.33V446.67M563.33 438.5H571.67M567.5 434.33V442.67M558.33 442.5H566.67M562.5 438.33V446.67M573.33 445.5H581.67M577.5 441.33V449.67M588.33 431.5H596.67M592.5 427.33V435.67M579.33 438.5H587.67M583.5 434.33V442.67M561.33 446.5H569.67M565.5 442.33V450.67M578.33 440.5H586.67M582.5 436.33V444.67M561.33 446.5H569.67M565.5 442.33V450.67M582.33 441.5H590.67M586.5 437.33V445.67M584.33 446.5H592.67M588.5 442.33V450.67M558.33 444.5H566.67M562.5 440.33V448.67M593.33 445.5H601.67M597.5 441.33V449.67M542.33 434.5H550.67M546.5 430.33V438.67M591.33 440.5H599.67M595.5 436.33V444.67M603.33 444.5H611.67M607.5 440.33V448.67M602.33 438.5H610.67M606.5 434.33V442.67M609.33 445.5H617.67M613.5 441.33V449.67M601.33 441.5H609.67M605.5 437.33V445.67M608.33 444.5H616.67M612.5 440.33V448.67M617.33 439.5H625.67M621.5 435.33V443.67M528.33 408.5H536.67M532.5 404.33V412.67M532.33 439.5H540.67M536.5 435.33V443.67M535.33 400.5H543.67M539.5 396.33V404.67M541.33 406.5H549.67M545.5 402.33V410.67M531.33 424.5H539.67M535.5 420.33V428.67M547.33 412.5H555.67M551.5 408.33V416.67M538.33 399.5H546.67M542.5 395.33V403.67M516.33 415.5H524.67M520.5 411.33V419.67M535.33 409.5H543.67M539.5 405.33V413.67M541.33 411.5H549.67M545.5 407.33V415.67M523.33 427.5H531.67M527.5 423.33V431.67M540.33 438.5H548.67M544.5 434.33V442.67M518.33 402.5H526.67M522.5 398.33V406.67M544.33 409.5H552.67M548.5 405.33V413.67M547.33 422.5H555.67M551.5 418.33V426.67M536.33 398.5H544.67M540.5 394.33V402.67M534.33 434.5H542.67M538.5 430.33V438.67M550.33 413.5H558.67M554.5 409.33V417.67M520.33 435.5H528.67M524.5 431.33V439.67M529.33 416.5H537.67M533.5 412.33V420.67M531.33 420.5H539.67M535.5 416.33V424.67M516.33 398.5H524.67M520.5 394.33V402.67M542.33 424.5H550.67M546.5 420.33V428.67M528.33 425.5H536.67M532.5 421.33V429.67M540.33 410.5H548.67M544.5 406.33V414.67M528.33 408.5H536.67M532.5 404.33V412.67M519.33 422.5H527.67M523.5 418.33V426.67M541.33 423.5H549.67M545.5 419.33V427.67M523.33 424.5H531.67M527.5 420.33V428.67M529.33 416.5H537.67M533.5 412.33V420.67M514.33 430.5H522.67M518.5 426.33V434.67M547.33 410.5H555.67M551.5 406.33V414.67M527.33 418.5H535.67M531.5 414.33V422.67M528.33 413.5H536.67M532.5 409.33V417.67M541.33 425.5H549.67M545.5 421.33V429.67M525.33 424.5H533.67M529.5 420.33V428.67M539.33 416.5H547.67M543.5 412.33V420.67M523.33 434.5H531.67M527.5 430.33V438.67M514.33 428.5H522.67M518.5 424.33V432.67M543.33 406.5H551.67M547.5 402.33V410.67M535.33 439.5H543.67M539.5 435.33V443.67M525.33 423.5H533.67M529.5 419.33V427.67M529.33 416.5H537.67M533.5 412.33V420.67M541.33 420.5H549.67M545.5 416.33V424.67M524.33 429.5H532.67M528.5 425.33V433.67M534.33 410.5H542.67M538.5 406.33V414.67M536.33 429.5H544.67M540.5 425.33V433.67M516.33 404.5H524.67M520.5 400.33V408.67M527.33 408.5H535.67M531.5 404.33V412.67M534.33 400.5H542.67M538.5 396.33V404.67M547.33 428.5H555.67M551.5 424.33V432.67M529.33 404.5H537.67M533.5 400.33V408.67M516.33 429.5H524.67M520.5 425.33V433.67M534.33 415.5H542.67M538.5 411.33V419.67M525.33 400.5H533.67M529.5 396.33V404.67M542.33 406.5H550.67M546.5 402.33V410.67M523.33 407.5H531.67M527.5 403.33V411.67M534.33 410.5H542.67M538.5 406.33V414.67M518.33 434.5H526.67M522.5 430.33V438.67M520.33 407.5H528.67M524.5 403.33V411.67M541.33 417.5H549.67M545.5 413.33V421.67M548.33 435.5H556.67M552.5 431.33V439.67M557.33 407.5H565.67M561.5 403.33V411.67M550.33 429.5H558.67M554.5 425.33V433.67M549.33 423.5H557.67M553.5 419.33V427.67M544.33 425.5H552.67M548.5 421.33V429.67M569.33 428.5H577.67M573.5 424.33V432.67M549.33 405.5H557.67M553.5 401.33V409.67M558.33 424.5H566.67M562.5 420.33V428.67M545.33 427.5H553.67M549.5 423.33V431.67M558.33 431.5H566.67M562.5 427.33V435.67M567.33 434.5H575.67M571.5 430.33V438.67M559.33 444.5H567.67M563.5 440.33V448.67M551.33 410.5H559.67M555.5 406.33V414.67M549.33 428.5H557.67M553.5 424.33V432.67M544.33 418.5H552.67M548.5 414.33V422.67M551.33 405.5H559.67M555.5 401.33V409.67M565.33 437.5H573.67M569.5 433.33V441.67M548.33 404.5H556.67M552.5 400.33V408.67M559.33 409.5H567.67M563.5 405.33V413.67M558.33 417.5H566.67M562.5 413.33V421.67M566.33 414.5H574.67M570.5 410.33V418.67M556.33 403.5H564.67M560.5 399.33V407.67M551.33 440.5H559.67M555.5 436.33V444.67M545.33 433.5H553.67M549.5 429.33V437.67M554.33 425.5H562.67M558.5 421.33V429.67M567.33 440.5H575.67M571.5 436.33V444.67M554.33 444.5H562.67M558.5 440.33V448.67M549.33 410.5H557.67M553.5 406.33V414.67M559.33 426.5H567.67M563.5 422.33V430.67M556.33 413.5H564.67M560.5 409.33V417.67M554.33 424.5H562.67M558.5 420.33V428.67M541.33 402.5H549.67M545.5 398.33V406.67M542.33 437.5H550.67M546.5 433.33V441.67M559.33 414.5H567.67M563.5 410.33V418.67M558.33 439.5H566.67M562.5 435.33V443.67M543.33 408.5H551.67M547.5 404.33V412.67M375.33 439.5H383.67M379.5 435.33V443.67M376.33 447.5H384.67M380.5 443.33V451.67M379.33 431.5H387.67M383.5 427.33V435.67M374.33 440.5H382.67M378.5 436.33V444.67M382.33 443.5H390.67M386.5 439.33V447.67M386.33 436.5H394.67M390.5 432.33V440.67M380.33 450.5H388.67M384.5 446.33V454.67M377.33 433.5H385.67M381.5 429.33V437.67M373.33 438.5H381.67M377.5 434.33V442.67M372.33 439.5H380.67M376.5 435.33V443.67M386.33 448.5H394.67M390.5 444.33V452.67M380.33 449.5H388.67M384.5 445.33V453.67M380.33 431.5H388.67M384.5 427.33V435.67M381.33 442.5H389.67M385.5 438.33V446.67M380.33 435.5H388.67M384.5 431.33V439.67M382.33 441.5H390.67M386.5 437.33V445.67M386.33 432.5H394.67M390.5 428.33V436.67M378.33 447.5H386.67M382.5 443.33V451.67M372.33 446.5H380.67M376.5 442.33V450.67M385.33 445.5H393.67M389.5 441.33V449.67M369.33 435.5H377.67M373.5 431.33V439.67M374.33 433.5H382.67M378.5 429.33V437.67M364.33 432.5H372.67M368.5 428.33V436.67M366.33 442.5H374.67M370.5 438.33V446.67M367.33 435.5H375.67M371.5 431.33V439.67M369.33 442.5H377.67M373.5 438.33V446.67M305.33 434.5H313.67M309.5 430.33V438.67M303.33 435.5H311.67M307.5 431.33V439.67M296.33 435.5H304.67M300.5 431.33V439.67M297.33 433.5H305.67M301.5 429.33V437.67M340.33 431.5H348.67M344.5 427.33V435.67M307.33 435.5H315.67M311.5 431.33V439.67M333.33 432.5H341.67M337.5 428.33V436.67M337.33 438.5H345.67M341.5 434.33V442.67M336.33 440.5H344.67M340.5 436.33V444.67M321.33 431.5H329.67M325.5 427.33V435.67M336.33 437.5H344.67M340.5 433.33V441.67M301.33 441.5H309.67M305.5 437.33V445.67M522.33 392.5H530.67M526.5 388.33V396.67M541.33 414.5H549.67M545.5 410.33V418.67M521.33 400.5H529.67M525.5 396.33V404.67M534.33 403.5H542.67M538.5 399.33V407.67M536.33 403.5H544.67M540.5 399.33V407.67M516.33 422.5H524.67M520.5 418.33V426.67M540.33 413.5H548.67M544.5 409.33V417.67M543.33 423.5H551.67M547.5 419.33V427.67M539.33 399.5H547.67M543.5 395.33V403.67M547.33 392.5H555.67M551.5 388.33V396.67M540.33 414.5H548.67M544.5 410.33V418.67M539.33 418.5H547.67M543.5 414.33V422.67M522.33 417.5H530.67M526.5 413.33V421.67M555.33 418.5H563.67M559.5 414.33V422.67M531.33 391.5H539.67M535.5 387.33V395.67" stroke="#00bfbf" stroke-width="0.7" fill="none"/>
<path d="M302.33 314.33L310.67 322.67M302.33 322.67L310.67 314.33M335.33 362.33L343.67 370.67M335.33 370.67L343.67 362.33M355.33 353.33L363.67 361.67M355.33 361.67L363.67 353.33M288.33 418.33L296.67 426.67M288.33 426.67L296.67 418.33M282.33 424.33L290.67 432.67M282.33 432.67L290.67 424.33M322.33 415.33L330.67 423.67M322.33 423.67L330.67 415.33M386.33 279.33L394.67 287.67M386.33 287.67L394.67 279.33M371.33 290.33L379.67 298.67M371.33 298.67L379.67 290.33M371.33 290.33L379.67 298.67M371.33 298.67L379.67 290.33M390.33 345.33L398.67 353.67M390.33 353.67L398.67 345.33M388.33 352.33L396.67 360.67M388.33 360.67L396.67 352.33M370.33 357.33L378.67 365.67M370.33 365.67L378.67 357.33M388.33 385.33L396.67 393.67M388.33 393.67L396.67 385.33M342.33 417.33L350.67 425.67M342.33 425.67L350.67 417.33M368.33 406.33L376.67 414.67M368.33 414.67L376.67 406.33M367.33 411.33L375.67 419.67M367.33 419.67L375.67 411.33M391.33 420.33L399.67 428.67M391.33 428.67L399.67 420.33M356.33 422.33L364.67 430.67M356.33 430.67L364.67 422.33M290.33 431.33L298.67 439.67M290.33 439.67L298.67 431.33M297.33 432.33L305.67 440.67M297.33 440.67L305.67 432.33M299.33 433.33L307.67 441.67M299.33 441.67L307.67 433.33M295.33 434.33L303.67 442.67M295.33 442.67L303.67 434.33M304.33 433.33L312.67 441.67M304.33 441.67L312.67 433.33M308.33 432.33L316.67 440.67M308.33 440.67L316.67 432.33M306.33 434.33L314.67 442.67M306.33 442.67L314.67 434.33M314.33 430.33L322.67 438.67M314.33 438.67L322.67 430.33M320.33 428.33L328.67 436.67M320.33 436.67L328.67 428.33M321.33 427.33L329.67 435.67M321.33 435.67L329.67 427.33M317.33 433.33L325.67 441.67M317.33 441.67L325.67 433.33M329.33 432.33L337.67 440.67M329.33 440.67L337.67 432.33M332.33 431.33L340.67 439.67M332.33 439.67L340.67 431.33M335.33 430.33L343.67 438.67M335.33 438.67L343.67 430.33M338.33 430.33L346.67 438.67M338.33 438.67L346.67 430.33M333.33 433.33L341.67 441.67M333.33 441.67L341.67 433.33M337.33 433.33L345.67 441.67M337.33 441.67L345.67 433.33M341.33 426.33L349.67 434.67M341.33 434.67L349.67 426.33M340.33 431.33L348.67 439.67M340.33 439.67L348.67 431.33M343.33 431.33L351.67 439.67M343.33 439.67L351.67 431.33M337.33 432.33L345.67 440.67M337.33 440.67L345.67 432.33M345.33 434.33L353.67 442.67M345.33 442.67L353.67 434.33M353.33 431.33L361.67 439.67M353.33 439.67L361.67 431.33M356.33 432.33L364.67 440.67M356.33 440.67L364.67 432.33M358.33 430.33L366.67 438.67M358.33 438.67L366.67 430.33M351.33 434.33L359.67 442.67M351.33 442.67L359.67 434.33M369.33 424.33L377.67 432.67M369.33 432.67L377.67 424.33M367.33 428.33L375.67 436.67M367.33 436.67L375.67 428.33M369.33 431.33L377.67 439.67M369.33 439.67L377.67 431.33M366.33 432.33L374.67 440.67M366.33 440.67L374.67 432.33M371.33 434.33L379.67 442.67M371.33 442.67L379.67 434.33M368.33 436.33L376.67 444.67M368.33 444.67L376.67 436.33M364.33 434.33L372.67 442.67M364.33 442.67L372.67 434.33M382.33 428.33L390.67 436.67M382.33 436.67L390.67 428.33M379.33 431.33L387.67 439.67M379.33 439.67L387.67 431.33M384.33 432.33L392.67 440.67M384.33 440.67L392.67 432.33M388.33 431.33L396.67 439.67M388.33 439.67L396.67 431.33M391.33 432.33L399.67 440.67M391.33 440.67L399.67 432.33M381.33 434.33L389.67 442.67M381.33 442.67L389.67 434.33M387.33 436.33L395.67 444.67M387.33 444.67L395.67 436.33M390.33 437.33L398.67 445.67M390.33 445.67L398.67 437.33M378.33 437.33L386.67 445.67M378.33 445.67L386.67 437.33M383.33 440.33L391.67 448.67M383.33 448.67L391.67 440.33M388.33 441.33L396.67 449.67M388.33 449.67L396.67 441.33M393.33 438.33L401.67 446.67M393.33 446.67L401.67 438.33M376.33 443.33L384.67 451.67M376.33 451.67L384.67 443.33M382.33 444.33L390.67 452.67M382.33 452.67L390.67 444.33M388.33 445.33L396.67 453.67M388.33 453.67L396.67 445.33M372.33 438.33L380.67 446.67M372.33 446.67L380.67 438.33M373.33 443.33L381.67 451.67M373.33 451.67L381.67 443.33M381.33 449.33L389.67 457.67M381.33 457.67L389.67 449.33M295.33 441.33L303.67 449.67M295.33 449.67L303.67 441.33M300.33 444.33L308.67 452.67M300.33 452.67L308.67 444.33M302.33 442.33L310.67 450.67M302.33 450.67L310.67 442.33M310.33 441.33L318.67 449.67M310.33 449.67L318.67 441.33M310.33 444.33L318.67 452.67M310.33 452.67L318.67 444.33M321.33 441.33L329.67 449.67M321.33 449.67L329.67 441.33M329.33 442.33L337.67 450.67M329.33 450.67L337.67 442.33M337.33 441.33L345.67 449.67M337.33 449.67L345.67 441.33M341.33 444.33L349.67 452.67M341.33 452.67L349.67 444.33M350.33 441.33L358.67 449.67M350.33 449.67L358.67 441.33M353.33 440.33L361.67 448.67M353.33 448.67L361.67 440.33M361.33 442.33L369.67 450.67M361.33 450.67L369.67 442.33M365.33 446.33L373.67 454.67M365.33 454.67L373.67 446.33M302.33 314.33L310.67 322.67M302.33 322.67L310.67 314.33M345.33 442.33L353.67 450.67M345.33 450.67L353.67 442.33M357.33 441.33L365.67 449.67M357.33 449.67L365.67 441.33M375.33 435.33L383.67 443.67M375.33 443.67L383.67 435.33M376.33 443.33L384.67 451.67M376.33 451.67L384.67 443.33M379.33 427.33L387.67 435.67M379.33 435.67L387.67 427.33M374.33 436.33L382.67 444.67M374.33 444.67L382.67 436.33M382.33 439.33L390.67 447.67M382.33 447.67L390.67 439.33M386.33 432.33L394.67 440.67M386.33 440.67L394.67 432.33M380.33 446.33L388.67 454.67M380.33 454.67L388.67 446.33M377.33 429.33L385.67 437.67M377.33 437.67L385.67 429.33M373.33 434.33L381.67 442.67M373.33 442.67L381.67 434.33M372.33 435.33L380.67 443.67M372.33 443.67L380.67 435.33M386.33 444.33L394.67 452.67M386.33 452.67L394.67 444.33M380.33 445.33L388.67 453.67M380.33 453.67L388.67 445.33M380.33 427.33L388.67 435.67M380.33 435.67L388.67 427.33M381.33 438.33L389.67 446.67M381.33 446.67L389.67 438.33M380.33 431.33L388.67 439.67M380.33 439.67L388.67 431.33M382.33 437.33L390.67 445.67M382.33 445.67L390.67 437.33M386.33 428.33L394.67 436.67M386.33 436.67L394.67 428.33M378.33 443.33L386.67 451.67M378.33 451.67L386.67 443.33M372.33 442.33L380.67 450.67M372.33 450.67L380.67 442.33M385.33 441.33L393.67 449.67M385.33 449.67L393.67 441.33M369.33 431.33L377.67 439.67M369.33 439.67L377.67 431.33M374.33 429.33L382.67 437.67M374.33 437.67L382.67 429.33M364.33 428.33L372.67 436.67M364.33 436.67L372.67 428.33M366.33 438.33L374.67 446.67M366.33 446.67L374.67 438.33M367.33 431.33L375.67 439.67M367.33 439.67L375.67 431.33M369.33 438.33L377.67 446.67M369.33 446.67L377.67 438.33M305.33 430.33L313.67 438.67M305.33 438.67L313.67 430.33M303.33 431.33L311.67 439.67M303.33 439.67L311.67 431.33M296.33 431.33L304.67 439.67M296.33 439.67L304.67 431.33M297.33 429.33L305.67 437.67M297.33 437.67L305.67 429.33M340.33 427.33L348.67 435.67M340.33 435.67L348.67 427.33M307.33 431.33L315.67 439.67M307.33 439.67L315.67 431.33M333.33 428.33L341.67 436.67M333.33 436.67L341.67 428.33M337.33 434.33L345.67 442.67M337.33 442.67L345.67 434.33M336.33 436.33L344.67 444.67M336.33 444.67L344.67 436.33M321.33 427.33L329.67 435.67M321.33 435.67L329.67 427.33M336.33 433.33L344.67 441.67M336.33 441.67L344.67 433.33M301.33 437.33L309.67 445.67M301.33 445.67L309.67 437.33" stroke="#0000ff" stroke-width="0.7" fill="none"/>
<circle cx="299.00" cy="445.30" r="4.17" fill="#000000" stroke="#000000" stroke-width="0.7"/>
<circle cx="304.40" cy="448.40" r="4.17" fill="#000000" stroke="#000000" stroke-width="0.7"/>
<circle cx="306.90" cy="446.90" r="4.17" fill="#000000" stroke="#000000" stroke-width="0.7"/>
<circle cx="314.40" cy="445.30" r="4.17" fill="#000000" stroke="#000000" stroke-width="0.7"/>
<circle cx="314.40" cy="448.75" r="4.17" fill="#000000" stroke="#000000" stroke-width="0.7"/>
<circle cx="325.00" cy="445.40" r="4.17" fill="#000000" stroke="#000000" stroke-width="0.7"/>
<circle cx="333.75" cy="446.90" r="4.17" fill="#000000" stroke="#000000" stroke-width="0.7"/>
<circle cx="341.50" cy="445.80" r="4.17" fill="#000000" stroke="#000000" stroke-width="0.7"/>
<circle cx="345.70" cy="448.00" r="4.17" fill="#000000" stroke="#000000" stroke-width="0.7"/>
<circle cx="354.50" cy="445.00" r="4.17" fill="#000000" stroke="#000000" stroke-width="0.7"/>
<circle cx="357.50" cy="444.50" r="4.17" fill="#000000" stroke="#000000" stroke-width="0.7"/>
<circle cx="365.00" cy="446.00" r="4.17" fill="#000000" stroke="#000000" stroke-width="0.7"/>
<circle cx="369.30" cy="450.20" r="4.17" fill="#000000" stroke="#000000" stroke-width="0.7"/>
<circle cx="349.50" cy="446.00" r="4.17" fill="#000000" stroke="#000000" stroke-width="0.7"/>
<circle cx="361.00" cy="445.00" r="4.17" fill="#000000" stroke="#000000" stroke-width="0.7"/>
<line x1="100.5" y1="446.5" x2="720" y2="446.5" stroke="#0000ff" stroke-width="1.39" stroke-dasharray="8.333 8.333"/>
</g>
<rect x="100.5" y="60.5" width="620" height="480" fill="none" stroke="#000000" stroke-width="1.3"/>
<path d="M100.5 540v-5.56M183.5 540v-5.56M265.5 540v-5.56M348.5 540v-5.56M431.5 540v-5.56M513.5 540v-5.56M596.5 540v-5.56M679.5 540v-5.56M131.5 60v6.56M214.5 60v6.56M297.5 60v6.56M379.5 60v6.56M462.5 60v6.56M545.5 60v6.56M627.5 60v6.56M710.5 60v6.56M100 540.5h6.56M720 540.5h-5.56M100 420.5h6.56M720 420.5h-5.56M100 300.5h6.56M720 300.5h-5.56M100 180.5h6.56M720 180.5h-5.56M100 60.5h6.56M720 60.5h-5.56" stroke="#000000" stroke-width="0.7" fill="none"/>
<text transform="translate(99.80 560.20) scale(1 1.1)" font-family="'DejaVu Sans', 'Liberation Sans', sans-serif" font-size="16.667" text-anchor="middle" fill="#000000" letter-spacing="-0.5">−20</text>
<text transform="translate(182.47 560.20) scale(1 1.1)" font-family="'DejaVu Sans', 'Liberation Sans', sans-serif" font-size="16.667" text-anchor="middle" fill="#000000" letter-spacing="-0.5">−18</text>
<text transform="translate(265.13 560.20) scale(1 1.1)" font-family="'DejaVu Sans', 'Liberation Sans', sans-serif" font-size="16.667" text-anchor="middle" fill="#000000" letter-spacing="-0.5">−16</text>
<text transform="translate(347.80 560.20) scale(1 1.1)" font-family="'DejaVu Sans', 'Liberation Sans', sans-serif" font-size="16.667" text-anchor="middle" fill="#000000" letter-spacing="-0.5">−14</text>
<text transform="translate(430.47 560.20) scale(1 1.1)" font-family="'DejaVu Sans', 'Liberation Sans', sans-serif" font-size="16.667" text-anchor="middle" fill="#000000" letter-spacing="-0.5">−12</text>
<text transform="translate(513.13 560.20) scale(1 1.1)" font-family="'DejaVu Sans', 'Liberation Sans', sans-serif" font-size="16.667" text-anchor="middle" fill="#000000" letter-spacing="-0.5">−10</text>
<text transform="translate(595.80 560.20) scale(1 1.1)" font-family="'DejaVu Sans', 'Liberation Sans', sans-serif" font-size="16.667" text-anchor="middle" fill="#000000" letter-spacing="-0.5">−8</text>
<text transform="translate(678.47 560.20) scale(1 1.1)" font-family="'DejaVu Sans', 'Liberation Sans', sans-serif" font-size="16.667" text-anchor="middle" fill="#000000" letter-spacing="-0.5">−6</text>
<text transform="translate(130.74 49.98) scale(1 1.1)" font-family="'DejaVu Sans', 'Liberation Sans', sans-serif" font-size="16.667" text-anchor="middle" fill="#000000" letter-spacing="-1.0">14</text>
<text transform="translate(213.41 49.98) scale(1 1.1)" font-family="'DejaVu Sans', 'Liberation Sans', sans-serif" font-size="16.667" text-anchor="middle" fill="#000000" letter-spacing="-1.0">16</text>
<text transform="translate(296.08 49.98) scale(1 1.1)" font-family="'DejaVu Sans', 'Liberation Sans', sans-serif" font-size="16.667" text-anchor="middle" fill="#000000" letter-spacing="-1.0">18</text>
<text transform="translate(378.74 49.98) scale(1 1.1)" font-family="'DejaVu Sans', 'Liberation Sans', sans-serif" font-size="16.667" text-anchor="middle" fill="#000000" letter-spacing="-1.0">20</text>
<text transform="translate(461.41 49.98) scale(1 1.1)" font-family="'DejaVu Sans', 'Liberation Sans', sans-serif" font-size="16.667" text-anchor="middle" fill="#000000" letter-spacing="-1.0">22</text>
<text transform="translate(544.08 49.98) scale(1 1.1)" font-family="'DejaVu Sans', 'Liberation Sans', sans-serif" font-size="16.667" text-anchor="middle" fill="#000000" letter-spacing="-1.0">24</text>
<text transform="translate(626.74 49.98) scale(1 1.1)" font-family="'DejaVu Sans', 'Liberation Sans', sans-serif" font-size="16.667" text-anchor="middle" fill="#000000" letter-spacing="-1.0">26</text>
<text transform="translate(709.41 49.98) scale(1 1.1)" font-family="'DejaVu Sans', 'Liberation Sans', sans-serif" font-size="16.667" text-anchor="middle" fill="#000000" letter-spacing="-1.0">28</text>
<text transform="translate(94.20 544.60) scale(1 1.1)" font-family="'DejaVu Sans', 'Liberation Sans', sans-serif" font-size="16.667" text-anchor="end" fill="#000000" letter-spacing="-1.0">0</text>
<text transform="translate(94.20 424.60) scale(1 1.1)" font-family="'DejaVu Sans', 'Liberation Sans', sans-serif" font-size="16.667" text-anchor="end" fill="#000000" letter-spacing="-1.0">5</text>
<text transform="translate(94.20 304.60) scale(1 1.1)" font-family="'DejaVu Sans', 'Liberation Sans', sans-serif" font-size="16.667" text-anchor="end" fill="#000000" letter-spacing="-1.0">10</text>
<text transform="translate(94.20 184.60) scale(1 1.1)" font-family="'DejaVu Sans', 'Liberation Sans', sans-serif" font-size="16.667" text-anchor="end" fill="#000000" letter-spacing="-1.0">15</text>
<text transform="translate(94.20 64.60) scale(1 1.1)" font-family="'DejaVu Sans', 'Liberation Sans', sans-serif" font-size="16.667" text-anchor="end" fill="#000000" letter-spacing="-1.0">20</text>
<text transform="translate(411.00 584.30) scale(1 1.1)" font-family="'DejaVu Sans', 'Liberation Sans', sans-serif" font-size="16.667" text-anchor="middle" fill="#000000">magnitude (bottom:isnt / top:calib)</text>
<text transform="translate(63.60 300.00) rotate(-90) scale(1 1.1)" font-family="'DejaVu Sans', 'Liberation Sans', sans-serif" font-size="16.667" text-anchor="middle" fill="#000000">FWHM (pix)</text>
<text transform="translate(411.00 29.40)" font-family="'DejaVu Sans', 'Liberation Sans', sans-serif" font-size="20" text-anchor="middle" fill="#000000">FWHM vs magnitudes</text>
<rect x="398.5" y="70.5" width="312.0" height="122.0" fill="#ffffff" stroke="#000000" stroke-width="1.3"/>
<path d="M408.33 86.5H416.67M412.5 82.33V90.67M436.33 86.5H444.67M440.5 82.33V90.67" stroke="#00bfbf" stroke-width="0.7" fill="none"/>
<path d="M408.33 111.33L416.67 119.67M408.33 119.67L416.67 111.33M436.33 111.33L444.67 119.67M436.33 119.67L444.67 111.33" stroke="#0000ff" stroke-width="0.7" fill="none"/>
<circle cx="412.5" cy="144.5" r="4.17" fill="#000000" stroke="#000000" stroke-width="0.7"/>
<circle cx="440.5" cy="144.5" r="4.17" fill="#000000" stroke="#000000" stroke-width="0.7"/>
<line x1="412.3" y1="173.5" x2="440.5" y2="173.5" stroke="#0000ff" stroke-width="1.39" stroke-dasharray="8.333 8.333"/>
<text transform="translate(462.30 93.00)" font-family="'DejaVu Sans', 'Liberation Sans', sans-serif" font-size="20" text-anchor="start" fill="#000000">all sample</text>
<text transform="translate(462.30 121.80)" font-family="'DejaVu Sans', 'Liberation Sans', sans-serif" font-size="20" text-anchor="start" fill="#000000">sample for rough FWHM</text>
<text transform="translate(462.30 150.60)" font-family="'DejaVu Sans', 'Liberation Sans', sans-serif" font-size="20" text-anchor="start" fill="#000000">coarse PSF-like sample</text>
<text transform="translate(462.30 179.40)" font-family="'DejaVu Sans', 'Liberation Sans', sans-serif" font-size="20" text-anchor="start" fill="#000000">tentative FWHM</text>
</svg>
</body></html>
